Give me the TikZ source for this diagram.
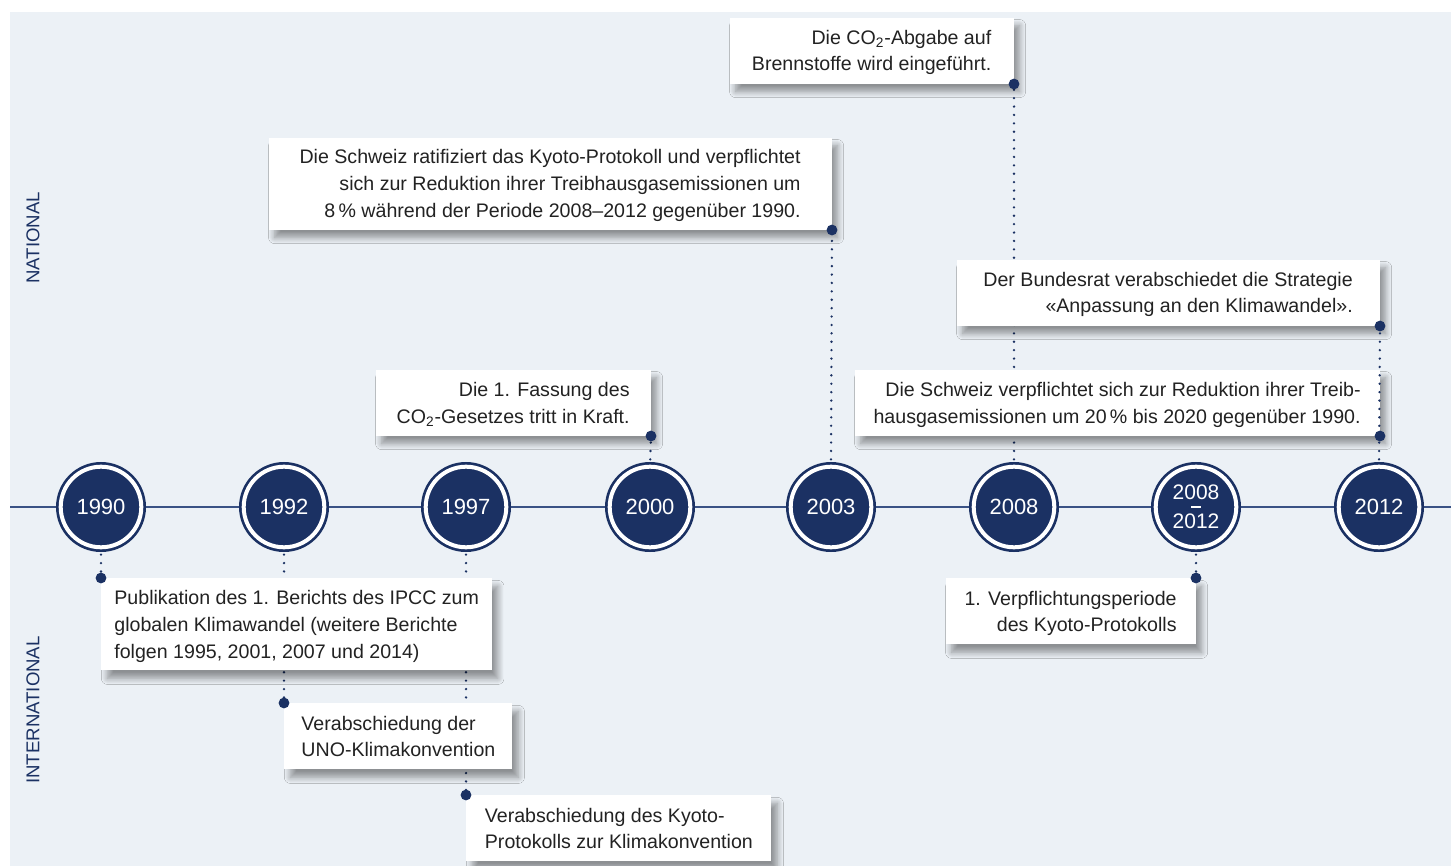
\documentclass[tikz,border=0pt]{standalone}
\usepackage{fontspec}
\setmainfont{Liberation Sans}
\usetikzlibrary{positioning, shadows.blur}

\definecolor{navy}{HTML}{1B3163}
\definecolor{axisblue}{HTML}{3A5285}
\definecolor{bgblue}{HTML}{ECF1F6}
\definecolor{txtgray}{HTML}{222222}

% struts for the first and last line of a box
\newcommand{\tstrut}{\rule{0pt}{10.2pt}}
\newcommand{\bstrut}{\rule[-3.2pt]{0pt}{3.2pt}}

\tikzset{
    yearnode/.style={circle, minimum size=40.3pt, inner sep=0pt, fill=navy, draw=navy,
        line width=1.35pt, double=white, double distance=2pt, text=white,
        font=\fontsize{11}{13}\selectfont},
    evbox/.style={fill=white, inner xsep=6.5pt, inner ysep=0pt, text=txtgray,
        font=\fontsize{9.8}{13.4}\selectfont,
        blur shadow={shadow xshift=3pt, shadow yshift=-4pt, shadow blur radius=3pt,
            shadow blur steps=12, shadow opacity=40}},
    twoline/.style={minimum height=33pt},
    threeline/.style={minimum height=46pt},
    dotline/.style={navy, line width=1.3pt, line cap=round, dash pattern=on 0pt off 4.2pt,
        shorten <=3pt},
    enddot/.style={fill=navy},
    sidelabel/.style={rotate=90, text=navy, font=\fontsize{9.3}{11}\selectfont}
}

\begin{document}
\begin{tikzpicture}[x=0.5pt, y=-0.5pt]
    \useasboundingbox (0, 0) rectangle (1451, 866);
    \fill[bgblue] (10, 12) rectangle (1451, 866);

    % side labels
    \node[sidelabel] (nat) at (33, 238) {NATIONAL};
    \node[sidelabel] (intl) at (33, 710) {INTERNATIONAL};

    % time axis
    \draw[axisblue, line width=0.75pt] (10, 507) -- (1451, 507);
    \node[yearnode] (c1990) at (101, 507) {1990};
    \node[yearnode] (c1992) at (284, 507) {1992};
    \node[yearnode] (c1997) at (466, 507) {1997};
    \node[yearnode] (c2000) at (650, 507) {2000};
    \node[yearnode] (c2003) at (831, 507) {2003};
    \node[yearnode] (c2008) at (1014, 507) {2008};
    \node[yearnode, align=center, font=\fontsize{10.5}{12}\selectfont] (c0812) at (1196, 507)
        {2008\\[2.5pt]2012};
    \draw[white, line width=0.55pt] ([xshift=-2.3pt]c0812.center) -- ([xshift=2.3pt]c0812.center);
    \node[yearnode] (c2012) at (1379, 507) {2012};

    % end points of the connectors
    \coordinate (dco) at (1014, 84);
    \coordinate (dkyoto) at (832, 230);
    \coordinate (dbund) at (1380, 326);
    \coordinate (dziel) at (1380, 436);
    \coordinate (dgesetz) at (651, 436);
    \coordinate (dipcc) at (101, 578);
    \coordinate (duno) at (284, 703);
    \coordinate (dprot) at (466, 795);
    \coordinate (dperiode) at (1196, 578);

    \draw[dotline] (c1990.south) -- (dipcc);
    \draw[dotline] (c1992.south) -- (duno);
    \draw[dotline] (c1997.south) -- (dprot);
    \draw[dotline] (c2000.north) -- (dgesetz);
    \draw[dotline] (c2003.north) -- (dkyoto);
    \draw[dotline] (c2008.north) -- (dco);
    \draw[dotline] (c0812.south) -- (dperiode);

    % national
    \node[evbox, twoline, minimum width=142pt, align=right, anchor=south east] (co) at (dco)
        {\tstrut Die CO\textsubscript{2}-Abgabe auf\\Brennstoffe wird eingeführt.\bstrut};
    \node[evbox, threeline, minimum width=281.5pt, align=right, anchor=south east] (kyoto) at (dkyoto)
        {\tstrut Die Schweiz ratifiziert das Kyoto-Protokoll und verpflichtet\\sich zur Reduktion ihrer Treibhausgasemissionen um\\8\,\% während der Periode 2008--2012 gegenüber 1990.\bstrut};
    \node[evbox, twoline, minimum width=211.5pt, align=right, anchor=south east] (bund) at (dbund)
        {\tstrut Der Bundesrat verabschiedet die Strategie\\«Anpassung an den Klimawandel».\bstrut};
    \node[evbox, twoline, minimum width=262.5pt, align=right, anchor=south east] (ziel) at (dziel)
        {\tstrut Die Schweiz verpflichtet sich zur Reduktion ihrer Treib-\\hausgasemissionen um 20\,\% bis 2020 gegenüber 1990.\bstrut};
    \node[evbox, twoline, minimum width=137.5pt, align=right, anchor=south east] (gesetz) at (dgesetz)
        {\tstrut Die 1. Fassung des\\CO\textsubscript{2}-Gesetzes tritt in Kraft.\bstrut};

    % international
    \node[evbox, threeline, minimum width=193.5pt, align=left, anchor=north west] (ipcc) at (dipcc)
        {\tstrut Publikation des 1. Berichts des IPCC zum\\globalen Klimawandel (weitere Berichte\\folgen 1995, 2001, 2007 und 2014)\bstrut};
    \node[evbox, twoline, minimum width=114pt, align=left, anchor=north west] (uno) at (duno)
        {\tstrut Verabschiedung der\\UNO-Klimakonvention\bstrut};
    \node[evbox, twoline, minimum width=152.5pt, align=left, anchor=north west] (prot) at (dprot)
        {\tstrut Verabschiedung des Kyoto-\\Protokolls zur Klimakonvention\bstrut};
    \node[evbox, twoline, minimum width=125pt, align=right, anchor=north east] (periode) at (dperiode)
        {\tstrut 1. Verpflichtungsperiode\\des Kyoto-Protokolls\bstrut};

    \draw[dotline] (c2012.north) -- (dbund);

    \foreach \d in {dco, dkyoto, dbund, dziel, dgesetz, dipcc, duno, dprot, dperiode}
        \fill[enddot] (\d) circle[radius=2.7pt];
\end{tikzpicture}
\end{document}
